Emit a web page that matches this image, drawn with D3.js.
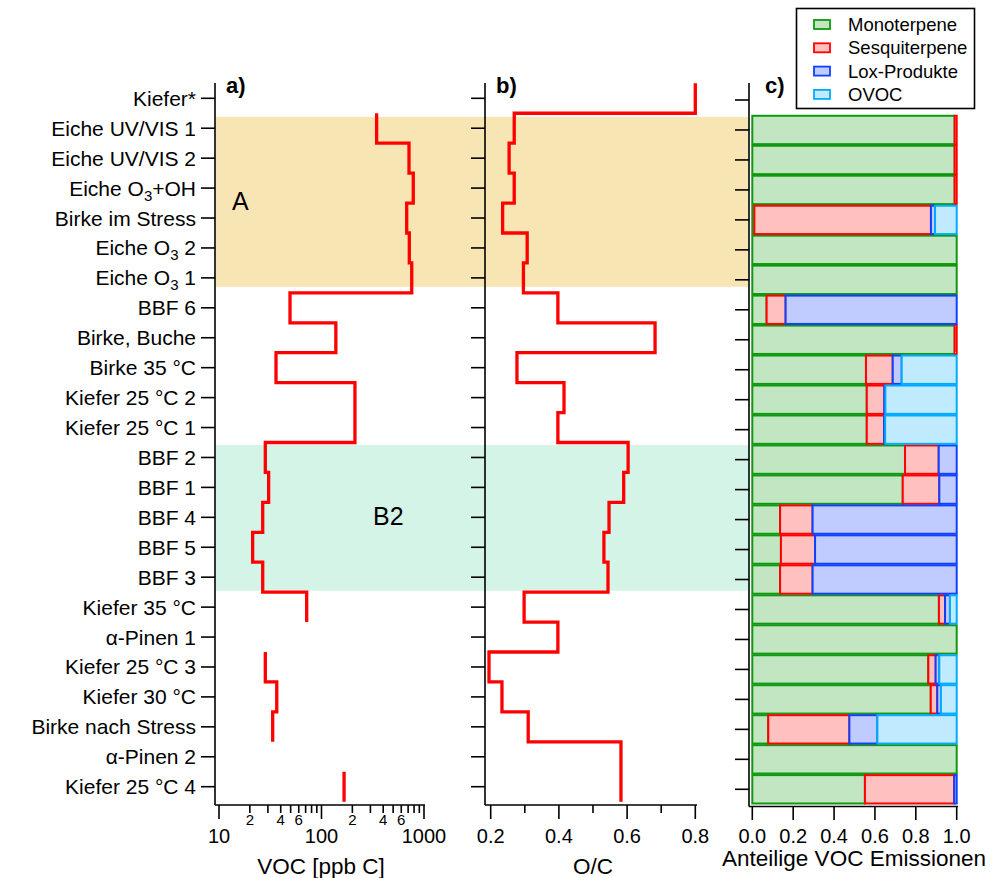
<!DOCTYPE html>
<html>
<head>
<meta charset="utf-8">
<script src="https://cdn.jsdelivr.net/npm/d3@7"></script>
<style>
  body { margin: 0; background: #fff; }
  svg { font-family: "Liberation Sans", Arial, sans-serif; }
</style>
</head>
<body>
<svg id="chart" width="992" height="878"></svg>
<script>
// categories, top to bottom ("_3" marks a subscript 3)
const categories = [
  'Kiefer*', 'Eiche UV/VIS 1', 'Eiche UV/VIS 2', 'Eiche O_3+OH', 'Birke im Stress',
  'Eiche O_3 2', 'Eiche O_3 1', 'BBF 6', 'Birke, Buche', 'Birke 35 °C',
  'Kiefer 25 °C 2', 'Kiefer 25 °C 1', 'BBF 2', 'BBF 1', 'BBF 4', 'BBF 5', 'BBF 3',
  'Kiefer 35 °C', 'α-Pinen 1', 'Kiefer 25 °C 3', 'Kiefer 30 °C', 'Birke nach Stress',
  'α-Pinen 2', 'Kiefer 25 °C 4'
]

// a) VOC [ppb C]
const vocValues = [null, 345, 714, 786, 678, 719, 759, 49.3, 138, 36, 212, 212,
  28.3, 30.5, 26.7, 21.3, 26.7, 71.7, null, 28.3, 36.6, 33.4, null, 166]

// b) O/C
const ocValues = [0.80, 0.269, 0.254, 0.269, 0.235, 0.307, 0.296, 0.397, 0.682, 0.277,
  0.415, 0.397, 0.603, 0.590, 0.547, 0.532, 0.544, 0.298, 0.397, 0.195, 0.233, 0.31,
  0.582, 0.582]

// c) Anteilige VOC Emissionen
const monoterpene = [null, 0.99, 0.99, 0.99, 0.01, 1.0, 1.0, 0.07, 0.99, 0.556, 0.56, 0.56,
  0.747, 0.736, 0.136, 0.14, 0.136, 0.913, 1.0, 0.861, 0.873, 0.078, 1.0, 0.551]
const sesquiterpene = [null, 0.01, 0.01, 0.01, 0.864, 0, 0, 0.093, 0.01, 0.131, 0.086, 0.085,
  0.165, 0.179, 0.159, 0.167, 0.159, 0.03, 0, 0.036, 0.032, 0.397, 0, 0.437]
const loxProdukte = [null, 0, 0, 0, 0.02, 0, 0, 0.837, 0, 0.044, 0.005, 0.005,
  0.088, 0.085, 0.705, 0.693, 0.705, 0.024, 0, 0.018, 0.018, 0.137, 0, 0.012]
const ovoc = [null, 0, 0, 0, 0.106, 0, 0, 0, 0, 0.269, 0.349, 0.35,
  0, 0, 0, 0, 0, 0.033, 0, 0.085, 0.077, 0.388, 0, 0]

const seriesNames = ['Monoterpene', 'Sesquiterpene', 'Lox-Produkte', 'OVOC']
const seriesFill = ['#c2e6c2', '#ffc0c0', '#c0ccff', '#c0ebff']
const seriesStroke = ['#109910', '#ff0000', '#1040ff', '#00aaff']

// shaded groups (in category index units)
const bands = [
  { name: 'A', from: 0.62, to: 6.3, color: '#f8e5b4' },
  { name: 'B2', from: 11.58, to: 16.45, color: '#d3f4e7' }
]

const logMinor = [20, 30, 40, 50, 60, 70, 80, 90, 200, 300, 400, 500, 600, 700, 800, 900]
const logMinorLabels = [20, 40, 60, 200, 400, 600]
const logMajor = [10, 100, 1000]
const ocTicks = [0.2, 0.3, 0.4, 0.5, 0.6, 0.7, 0.8]
const ocLabels = [0.2, 0.4, 0.6, 0.8]
const fracTicks = [0, 0.2, 0.4, 0.6, 0.8, 1.0]

const svg = d3.select('#chart')
const n = categories.length

// y scales: category index -> pixel
const y = d3.scaleLinear().domain([0, n - 1]).range([98.3, 786.7])
const yc = d3.scaleLinear().domain([0, n - 1]).range([100, 789.3])
const bottom = 805

const xa = d3.scaleLog().domain([10, 1000]).range([219, 424])
const xb = d3.scaleLinear().domain([0.2, 0.8]).range([490.7, 695.3])
const xc = d3.scaleLinear().domain([0, 1]).range([752.3, 956.7])

// background bands
svg.append('g').selectAll('rect')
  .data(bands)
  .join('rect')
  .attr('x', 216)
  .attr('width', 748 - 216)
  .attr('y', d => y(d.from))
  .attr('height', d => y(d.to) - y(d.from))
  .attr('fill', d => d.color)

svg.append('text').attr('x', 232).attr('y', 210)
  .attr('font-size', 25).text('A')
svg.append('text').attr('x', 373).attr('y', 525)
  .attr('font-size', 25).text('B2')

// draw a category axis (ticks + optional labels)
function categoryAxis (x0, yTop, yBottom, ys, withLabels) {
  let g = svg.append('g')
  g.append('line')
    .attr('x1', x0).attr('x2', x0)
    .attr('y1', yTop).attr('y2', yBottom)
    .attr('stroke', '#000').attr('stroke-width', 1.6)
  g.selectAll('.tick')
    .data(categories)
    .join('line')
    .attr('x1', x0 - 14).attr('x2', x0)
    .attr('y1', (d, i) => ys(i)).attr('y2', (d, i) => ys(i))
    .attr('stroke', '#000').attr('stroke-width', 1.6)
  if (!withLabels) return
  categories.forEach((c, i) => {
    let t = g.append('text')
      .attr('x', x0 - 19)
      .attr('y', ys(i) + 7.5)
      .attr('text-anchor', 'end')
      .attr('font-size', 21)
    let parts = c.split('_3')
    if (parts.length === 1) {
      t.text(c)
    } else {
      t.append('tspan').text(parts[0])
      t.append('tspan').text('3').attr('font-size', 15).attr('dy', 5)
      t.append('tspan').text(parts[1]).attr('dy', -5)
    }
  })
}

// horizontal value axis
function valueAxis (x0, x1, scale, ticks, labels, fmt, isMajor, labelSize) {
  let g = svg.append('g')
  g.append('line')
    .attr('x1', x0).attr('x2', x1)
    .attr('y1', bottom).attr('y2', bottom)
    .attr('stroke', '#000').attr('stroke-width', 1.6)
  g.selectAll('line.t')
    .data(ticks)
    .join('line')
    .attr('class', 't')
    .attr('x1', d => scale(d)).attr('x2', d => scale(d))
    .attr('y1', bottom).attr('y2', d => bottom + (isMajor(d) ? 14 : 8))
    .attr('stroke', '#000').attr('stroke-width', 1.6)
  g.selectAll('text')
    .data(labels)
    .join('text')
    .attr('x', d => scale(d))
    .attr('y', 843)
    .attr('text-anchor', 'middle')
    .attr('font-size', labelSize)
    .text(fmt)
}

// ---- panel a
categoryAxis(215, 83, bottom, y, true)
valueAxis(215, 425, xa, logMinor.concat(logMajor), logMajor, d => d, d => logMajor.includes(d), 20)
svg.append('g').selectAll('text')
  .data(logMinorLabels)
  .join('text')
  .attr('x', d => xa(d))
  .attr('y', 825)
  .attr('text-anchor', 'middle')
  .attr('font-size', 15)
  .text(d => String(d)[0])
svg.append('text').attr('x', 321).attr('y', 874)
  .attr('text-anchor', 'middle').attr('font-size', 22.5).text('VOC [ppb C]')
svg.append('text').attr('x', 226).attr('y', 93)
  .attr('font-size', 22).attr('font-weight', 'bold').text('a)')

// ---- panel b
categoryAxis(485, 83, bottom, y, false)
valueAxis(485, 697, xb, ocTicks, ocLabels, d => d.toFixed(1), d => ocLabels.includes(d), 20)
svg.append('text').attr('x', 593).attr('y', 874)
  .attr('text-anchor', 'middle').attr('font-size', 22.5).text('O/C')
svg.append('text').attr('x', 496).attr('y', 93)
  .attr('font-size', 22).attr('font-weight', 'bold').text('b)')

// step lines: vertical segment over each category, joined at boundaries
function stepPoints (values) {
  let pts = []
  values.forEach((v, i) => {
    pts.push({ v: v, i: i - 0.5 })
    pts.push({ v: v, i: i + 0.5 })
  })
  return pts
}

svg.append('path')
  .datum(stepPoints(vocValues))
  .attr('fill', 'none')
  .attr('stroke', '#ff0000')
  .attr('stroke-width', 3.3)
  .attr('d', d3.line()
    .defined(d => d.v !== null)
    .x(d => xa(d.v))
    .y(d => y(d.i)))

svg.append('path')
  .datum(stepPoints(ocValues))
  .attr('fill', 'none')
  .attr('stroke', '#ff0000')
  .attr('stroke-width', 3.3)
  .attr('d', d3.line()
    .defined(d => d.v !== null)
    .x(d => xb(d.v))
    .y(d => y(d.i)))

// ---- panel c
let rows = categories.map((c, i) => ({
  i: i,
  Monoterpene: monoterpene[i],
  Sesquiterpene: sesquiterpene[i],
  'Lox-Produkte': loxProdukte[i],
  OVOC: ovoc[i]
})).filter(r => r.Monoterpene !== null)

let stacked = d3.stack().keys(seriesNames)(rows)
let barH = yc(1) - yc(0)

stacked.forEach((layer, k) => {
  svg.append('g')
    .selectAll('rect')
    .data(layer.filter(d => d[1] - d[0] > 0))
    .join('rect')
    .attr('x', d => xc(d[0]))
    .attr('width', d => xc(d[1]) - xc(d[0]))
    .attr('y', d => yc(d.data.i) - barH / 2 + 0.8)
    .attr('height', barH - 1.6)
    .attr('fill', seriesFill[k])
    .attr('stroke', seriesStroke[k])
    .attr('stroke-width', 2)
})

categoryAxis(749, 83, bottom + 1.5, yc, false)
svg.append('g').call(g => {
  g.append('line')
    .attr('x1', 749).attr('x2', 958)
    .attr('y1', bottom + 1.5).attr('y2', bottom + 1.5)
    .attr('stroke', '#000').attr('stroke-width', 1.6)
  g.selectAll('line.t')
    .data(fracTicks)
    .join('line')
    .attr('class', 't')
    .attr('x1', d => xc(d)).attr('x2', d => xc(d))
    .attr('y1', bottom + 1.5).attr('y2', bottom + 15)
    .attr('stroke', '#000').attr('stroke-width', 1.6)
  g.selectAll('text')
    .data(fracTicks)
    .join('text')
    .attr('x', d => xc(d))
    .attr('y', 843)
    .attr('text-anchor', 'middle')
    .attr('font-size', 20)
    .text(d => d.toFixed(1))
})
svg.append('text').attr('x', 854).attr('y', 866)
  .attr('text-anchor', 'middle').attr('font-size', 22.5).text('Anteilige VOC Emissionen')
svg.append('text').attr('x', 765).attr('y', 93)
  .attr('font-size', 22).attr('font-weight', 'bold').text('c)')

// ---- legend
let legend = svg.append('g')
legend.append('rect')
  .attr('x', 796.5).attr('y', 8.5)
  .attr('width', 178).attr('height', 100)
  .attr('fill', '#fff').attr('stroke', '#000').attr('stroke-width', 1.6)
seriesNames.forEach((s, k) => {
  let cy = 24.5 + k * 23.3
  legend.append('rect')
    .attr('x', 814).attr('y', cy - 4.5)
    .attr('width', 16).attr('height', 9)
    .attr('fill', seriesFill[k])
    .attr('stroke', seriesStroke[k])
    .attr('stroke-width', 1.8)
  legend.append('text')
    .attr('x', 848).attr('y', cy + 6.5)
    .attr('font-size', 18.5)
    .text(s)
})
</script>
</body>
</html>
